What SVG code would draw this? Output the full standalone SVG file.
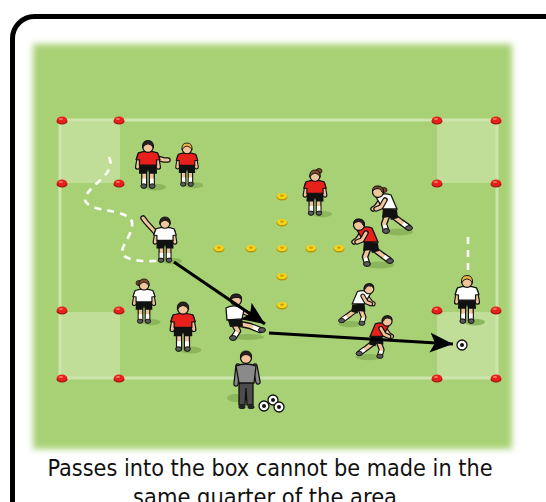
<svg xmlns="http://www.w3.org/2000/svg" xmlns:xlink="http://www.w3.org/1999/xlink" width="546" height="502" viewBox="0 0 546 502">
<defs>
<style>
.ln{fill:none;stroke:#cde5ad;stroke-width:3}
.box{fill:#c0de98}
.dash{fill:none;stroke:#fff;stroke-width:2.6;stroke-dasharray:7 6}
.pass{fill:none;stroke:#000;stroke-width:3}
.cap{font-family:"DejaVu Sans Condensed","DejaVu Sans",sans-serif;font-size:23px;fill:#111}
</style>
<filter id="soft" x="-5%" y="-5%" width="110%" height="110%"><feGaussianBlur stdDeviation="3"/></filter>
<marker id="tip" markerUnits="userSpaceOnUse" markerWidth="26" markerHeight="22" refX="23" refY="10" orient="auto" viewBox="0 0 26 22">
  <path d="M0,0 L23,10 L0,20 L5,10 Z" fill="#000"/>
</marker>
<!-- flat marker cones -->
<g id="cone">
  <ellipse cx="0" cy="1" rx="5.5" ry="3.6" fill="#9c1010"/>
  <ellipse cx="0" cy="0" rx="5" ry="3.4" fill="#e8201c"/>
  <ellipse cx="-1" cy="-1" rx="2" ry="1.1" fill="#ff7a66"/>
</g>
<g id="ycone">
  <ellipse cx="0" cy="1" rx="5.5" ry="3.4" fill="#b89200"/>
  <ellipse cx="0" cy="0" rx="5" ry="3.1" fill="#f6d41e"/>
  <ellipse cx="0" cy="-0.3" rx="2" ry="1.1" fill="#c9a000"/>
</g>
<g id="ball">
  <circle r="5" fill="#fff" stroke="#111" stroke-width="1.3"/>
  <circle r="2" fill="#111"/>
</g>
<!-- standing player, front view; shirt takes the fill of the use, hair takes its color -->
<g id="stand">
  <ellipse cx="8" cy="-1" rx="11" ry="3.5" fill="#8cb65c"/>
  <path d="M-4,-17 V-3 M4,-17 V-3" stroke="#111" stroke-width="6.5" stroke-linecap="round" fill="none"/>
  <path d="M-4,-17 V-4 M4,-17 V-4" stroke="#f1c59c" stroke-width="3.8" fill="none"/>
  <path d="M-4,-10 V-3 M4,-10 V-3" stroke="#fff" stroke-width="3.8" fill="none"/>
  <ellipse cx="-4.5" cy="-2" rx="3" ry="2.4" fill="#5a5a5a" stroke="#111"/>
  <ellipse cx="4.5" cy="-2" rx="3" ry="2.4" fill="#5a5a5a" stroke="#111"/>
  <path d="M-9,-26 H9 L9.5,-15 H1.5 L0,-19 L-1.5,-15 H-9.5 Z" fill="#111"/>
  <path d="M-9,-34 L-11,-22 M9,-34 L11,-22" stroke="#111" stroke-width="5.5" stroke-linecap="round" fill="none"/>
  <path d="M-9,-34 L-11,-22 M9,-34 L11,-22" stroke="#f1c59c" stroke-width="3" stroke-linecap="round" fill="none"/>
  <path d="M-10,-37 Q0,-40 10,-37 L12.5,-30 L9,-29.5 L9,-24 L-9,-24 L-9,-29.5 L-12.5,-30 Z" stroke="#111" stroke-width="1.3"/>
  <circle cx="0" cy="-43" r="5.5" fill="#f1c59c" stroke="#111" stroke-width="1.3"/>
  <path d="M-5.8,-42 Q-6.5,-50 0,-50 Q6.5,-50 5.8,-42 Q4,-46 0,-46.5 Q-4,-46 -5.8,-42 Z" fill="currentColor" stroke="#111" stroke-width="1"/>
</g>
<!-- running player, leaning to the left -->
<g id="run">
  <ellipse cx="12" cy="-1" rx="14" ry="3.5" fill="#8cb65c"/>
  <path d="M6,-17 L14,-11 L21,-6" stroke="#111" stroke-width="6.5" stroke-linecap="round" stroke-linejoin="round" fill="none"/>
  <path d="M6,-17 L14,-11 L21,-6" stroke="#f1c59c" stroke-width="3.8" stroke-linejoin="round" fill="none"/>
  <path d="M16,-9.5 L21,-6" stroke="#fff" stroke-width="3.8" fill="none"/>
  <ellipse cx="22" cy="-5" rx="3.5" ry="2.4" fill="#5a5a5a" stroke="#111"/>
  <path d="M0,-17 L-3,-9 L-1,-3" stroke="#111" stroke-width="6.5" stroke-linecap="round" stroke-linejoin="round" fill="none"/>
  <path d="M0,-17 L-3,-9 L-1,-3" stroke="#f1c59c" stroke-width="3.8" stroke-linejoin="round" fill="none"/>
  <path d="M-2.6,-8 L-1,-3" stroke="#fff" stroke-width="3.8" fill="none"/>
  <ellipse cx="-1" cy="-2" rx="3.5" ry="2.4" fill="#5a5a5a" stroke="#111"/>
  <path d="M-4,-25 L10,-23 L11,-15 L4,-13 L3,-16 L-5,-15 Z" fill="#111"/>
  <path d="M-6,-33 L-11,-26 L-14,-24" stroke="#111" stroke-width="5.5" stroke-linecap="round" stroke-linejoin="round" fill="none"/>
  <path d="M-6,-33 L-11,-26 L-14,-24" stroke="#f1c59c" stroke-width="3" stroke-linecap="round" stroke-linejoin="round" fill="none"/>
  <path d="M-11,-36 Q-4,-41 4,-38 L10,-24 L-4,-24 Z" stroke="#111" stroke-width="1.3"/>
  <path d="M-2,-33 L-6,-26 L-11,-24" stroke="#111" stroke-width="5.5" stroke-linecap="round" stroke-linejoin="round" fill="none"/>
  <path d="M-2,-33 L-6,-26 L-11,-24" stroke="#f1c59c" stroke-width="3" stroke-linecap="round" stroke-linejoin="round" fill="none"/>
  <circle cx="-9" cy="-41" r="5.5" fill="#f1c59c" stroke="#111" stroke-width="1.3"/>
  <path d="M-14.5,-42 Q-14.5,-47.5 -9,-47 Q-3,-47 -3.5,-40 L-5,-41 Q-6,-44.5 -9,-44.5 Q-12.5,-44.5 -14.5,-42 Z" fill="currentColor" stroke="#111" stroke-width="1"/>
</g>
</defs>

<!-- card frame -->
<rect x="12.5" y="16.5" width="570" height="530" rx="22" fill="#fff" stroke="#000" stroke-width="5"/>

<!-- grass -->
<rect x="33" y="44" width="479" height="405" fill="#a8d174" filter="url(#soft)"/>

<!-- corner boxes -->
<g id="boxes">
  <rect class="box" x="61" y="121" width="59" height="62"/>
  <rect class="box" x="437" y="121" width="59" height="62"/>
  <rect class="box" x="61" y="312" width="59" height="65"/>
  <rect class="box" x="437" y="312" width="59" height="65"/>
</g>

<!-- area markings -->
<path class="ln" d="M60,378 V120 H497 V378 H60"/>

<!-- red corner cones -->
<g id="cones">
  <use href="#cone" x="62" y="120"/><use href="#cone" x="119" y="120"/>
  <use href="#cone" x="437" y="120"/><use href="#cone" x="496" y="120"/>
  <use href="#cone" x="62" y="183"/><use href="#cone" x="119" y="183"/>
  <use href="#cone" x="437" y="183"/><use href="#cone" x="496" y="183"/>
  <use href="#cone" x="62" y="310"/><use href="#cone" x="119" y="310"/>
  <use href="#cone" x="437" y="310"/><use href="#cone" x="496" y="310"/>
  <use href="#cone" x="62" y="378"/><use href="#cone" x="119" y="378"/>
  <use href="#cone" x="437" y="378"/><use href="#cone" x="496" y="378"/>
</g>

<!-- yellow cross of cones -->
<g id="center-cones">
  <use href="#ycone" x="282" y="196"/><use href="#ycone" x="282" y="222"/>
  <use href="#ycone" x="282" y="248"/><use href="#ycone" x="282" y="276"/>
  <use href="#ycone" x="282" y="305"/>
  <use href="#ycone" x="219" y="248"/><use href="#ycone" x="251" y="248"/>
  <use href="#ycone" x="311" y="248"/><use href="#ycone" x="339" y="248"/>
</g>

<!-- runs -->
<g id="runs">
  <path class="dash" d="M109,157 C118,175 86,185 85,200 C88,213 128,208 132,222 C134,238 112,252 128,258 C138,262 150,261 162,261"/>
  <path class="dash" d="M468,237 V277"/>
</g>

<!-- players -->
<g id="p-red-1">
  <path d="M157,158 L164,160 L168,160" stroke="#111" stroke-width="5.5" stroke-linecap="round" fill="none"/>
  <path d="M157,158 L164,160 L168,160" stroke="#f1c59c" stroke-width="3" stroke-linecap="round" fill="none"/>
  <use href="#stand" transform="translate(148,188) scale(0.95)" fill="#e8201c" color="#2a2020"/>
</g>
<g id="p-red-2"><use href="#stand" transform="translate(187,186) scale(0.86)" fill="#e8201c" color="#e9b443"/></g>
<g id="p-red-3">
  <ellipse cx="319" cy="171" rx="3" ry="2.5" fill="#7a4a2a" stroke="#111" stroke-width="0.8"/>
  <use href="#stand" transform="translate(315,215) scale(0.9)" fill="#e8201c" color="#7a4a2a"/>
</g>
<g id="p-white-1">
  <ellipse cx="384" cy="190" rx="3" ry="2.5" fill="#7a4a2a" stroke="#111" stroke-width="0.8"/>
  <use href="#run" transform="translate(387,233)" fill="#fff" color="#7a4a2a"/>
</g>
<g id="p-red-4"><use href="#run" transform="translate(368,266)" fill="#e8201c" color="#2a2020"/></g>
<g id="p-white-2">
  <path d="M156,233 L146,222 L143,218" stroke="#111" stroke-width="5.5" stroke-linecap="round" fill="none"/>
  <path d="M156,233 L146,222 L143,218" stroke="#f1c59c" stroke-width="3" stroke-linecap="round" fill="none"/>
  <use href="#stand" transform="translate(165,262) scale(0.9)" fill="#fff" color="#2a2020"/>
</g>
<g id="p-white-3">
  <ellipse cx="139" cy="283" rx="3" ry="2.5" fill="#7a4a2a" stroke="#111" stroke-width="0.8"/>
  <use href="#stand" transform="translate(144,323) scale(0.88)" fill="#fff" color="#7a4a2a"/>
</g>
<g id="p-red-5"><use href="#stand" transform="translate(183,351) scale(0.98)" fill="#e8201c" color="#2a2020"/></g>
<g id="p-white-4">
  <ellipse cx="248" cy="337" rx="16" ry="3" fill="#8cb65c"/>
  <path d="M236,323 L250,326 L260,330 M234,324 L238,331 L234,337" stroke="#111" stroke-width="6.5" stroke-linecap="round" stroke-linejoin="round" fill="none"/>
  <path d="M236,323 L250,326 L260,330 M234,324 L238,331 L234,337" stroke="#f1c59c" stroke-width="3.8" stroke-linejoin="round" fill="none"/>
  <path d="M253,327 L260,330 M237,332 L234,337" stroke="#fff" stroke-width="3.8" fill="none"/>
  <ellipse cx="262" cy="330" rx="3.5" ry="2.4" fill="#5a5a5a" stroke="#111"/>
  <ellipse cx="233" cy="338" rx="3.5" ry="2.4" fill="#5a5a5a" stroke="#111"/>
  <path d="M227,317 L242,317 L243,326 L230,327 Z" fill="#111"/>
  <path d="M239,310 L249,314 L255,316" stroke="#111" stroke-width="5.5" stroke-linecap="round" fill="none"/>
  <path d="M239,310 L249,314 L255,316" stroke="#f1c59c" stroke-width="3" stroke-linecap="round" fill="none"/>
  <path d="M226,308 Q236,303 244,310 L242,319 L227,320 Z" fill="#fff" stroke="#111" stroke-width="1.3"/>
  <circle cx="236" cy="300" r="5.5" fill="#f1c59c" stroke="#111" stroke-width="1.3"/>
  <path d="M230.5,300 Q230,294 236,294 Q242,294 241.5,299 Q239,297 236,297.5 Q233,297 230.5,300 Z" fill="#2a2020" stroke="#111" stroke-width="1"/>
</g>
<g id="p-white-5"><use href="#run" transform="translate(361,325) scale(-0.88,0.88)" fill="#fff" color="#2a2020"/></g>
<g id="p-red-6"><use href="#run" transform="translate(379,358) scale(-0.9,0.9)" fill="#e8201c" color="#2a2020"/></g>
<g id="p-white-6"><use href="#stand" transform="translate(467,323) scale(0.95)" fill="#fff" color="#e9b443"/></g>
<g id="coach">
  <ellipse cx="236" cy="398" rx="9" ry="4" fill="#8cb65c"/>
  <path d="M238,366 L236,384 M255,366 L258,382" stroke="#111" stroke-width="5.5" stroke-linecap="round" fill="none"/>
  <path d="M238,366 L236,384 M255,366 L258,382" stroke="#8a8a8a" stroke-width="3" stroke-linecap="round" fill="none"/>
  <path d="M239,380 L239,405 L245,405 L246,388 L247,405 L253,405 L253,380 Z" fill="#4d4d4d" stroke="#111" stroke-width="1.3"/>
  <path d="M236,366 Q246,362 256,366 L254,383 L239,383 Z" fill="#8a8a8a" stroke="#111" stroke-width="1.3"/>
  <ellipse cx="242" cy="407" rx="3.5" ry="2" fill="#222"/>
  <ellipse cx="251" cy="407" rx="3.5" ry="2" fill="#222"/>
  <circle cx="246" cy="358" r="5.5" fill="#f1c59c" stroke="#111" stroke-width="1.3"/>
  <path d="M240.5,358 Q240,351 246,351 Q252,351 251.5,358 Q249,354 246,354.5 Q243,354 240.5,358 Z" fill="#2a2020" stroke="#111" stroke-width="1"/>
</g>

<!-- footballs -->
<g id="balls">
  <use href="#ball" x="462" y="345"/>
  <use href="#ball" x="264" y="406"/>
  <use href="#ball" x="273" y="400"/>
  <use href="#ball" x="279" y="407"/>
</g>

<!-- passes -->
<g id="passes">
  <path class="pass" d="M174,262 L265,324" marker-end="url(#tip)"/>
  <path class="pass" d="M269,333 L453,344" marker-end="url(#tip)"/>
</g>

<!-- caption -->
<text class="cap" x="270" y="476" text-anchor="middle" textLength="445" lengthAdjust="spacingAndGlyphs">Passes into the box cannot be made in the</text>
<text class="cap" x="265" y="505" text-anchor="middle" textLength="264" lengthAdjust="spacingAndGlyphs">same quarter of the area</text>
</svg>
